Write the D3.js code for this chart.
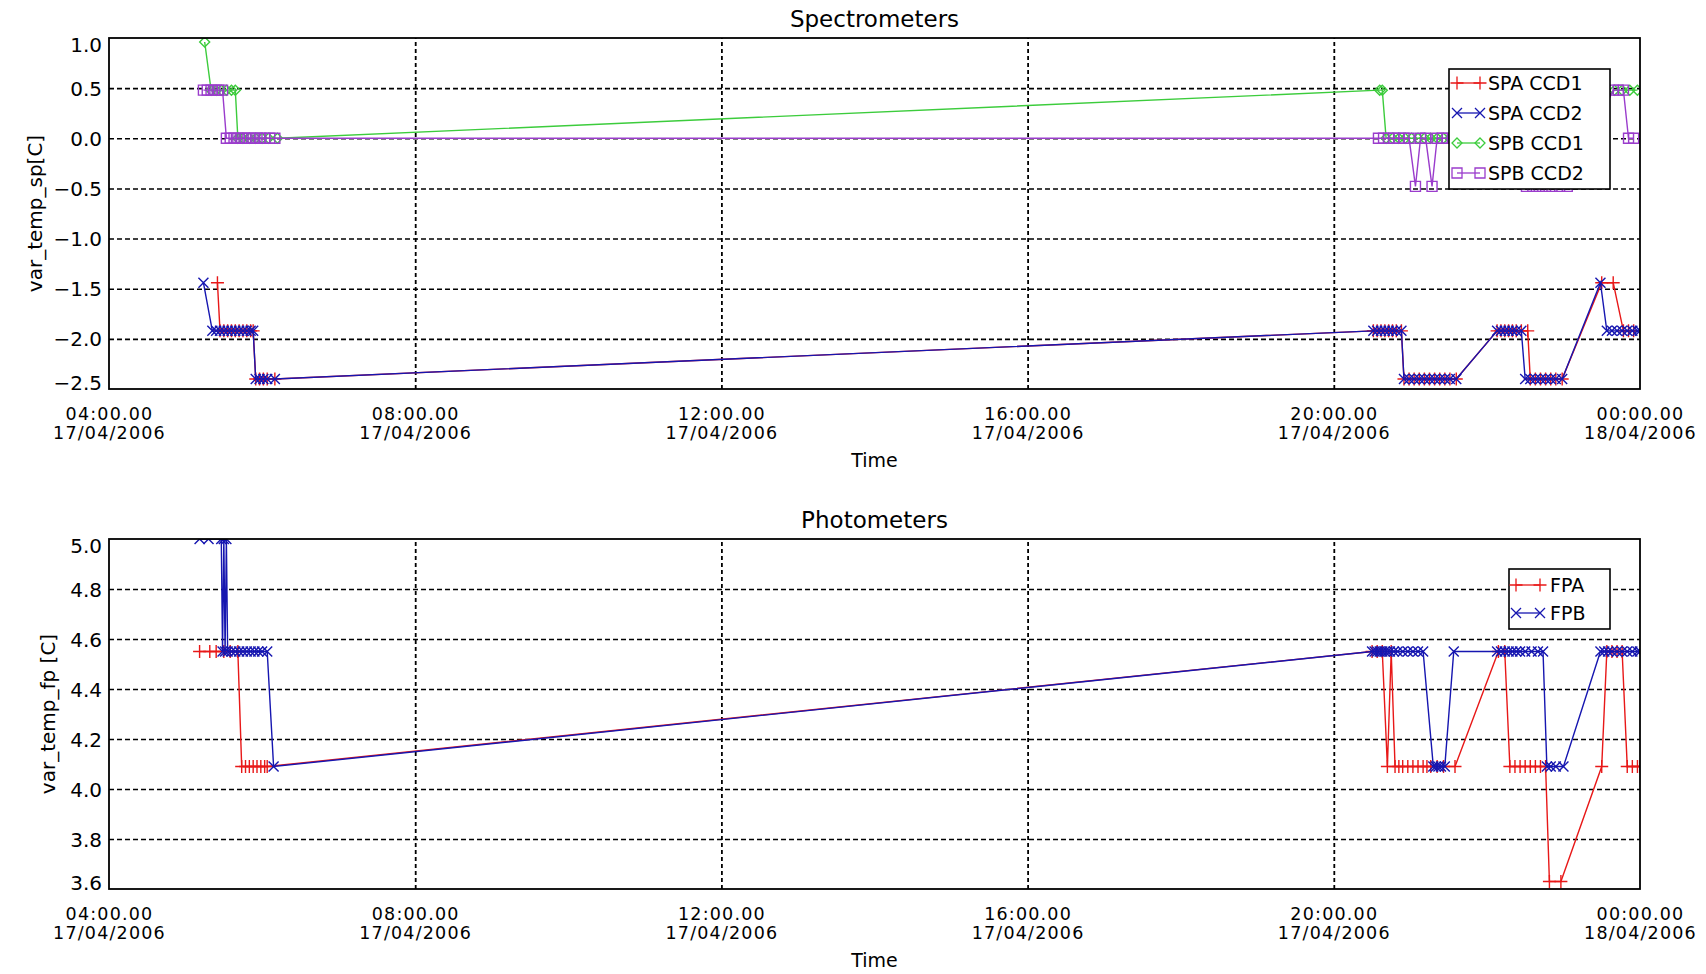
<!DOCTYPE html>
<html><head><meta charset="utf-8">
<script src="https://cdn.jsdelivr.net/npm/d3@7/dist/d3.min.js"></script>
<style>
body{margin:0;background:#fff;}
svg text{font-family:"DejaVu Sans",sans-serif;fill:#000;}
</style>
</head><body>
<svg id="chart" width="1706" height="974"></svg>
<script>
// ---------------- DATA ----------------
const timeTicks = ["04:00","08:00","12:00","16:00","20:00","24:00"];
const timeTickLabels = [
  ["04:00.00","17/04/2006"],["08:00.00","17/04/2006"],["12:00.00","17/04/2006"],
  ["16:00.00","17/04/2006"],["20:00.00","17/04/2006"],["00:00.00","18/04/2006"]
];
const spYTicks = [-2.5,-2.0,-1.5,-1.0,-0.5,0.0,0.5,1.0];
const fpYTicks = [3.6,3.8,4.0,4.2,4.4,4.6,4.8,5.0];

const spaCcd1 = [
 ["05:25",-1.44],["05:27",-1.92],["05:30",-1.92],["05:33",-1.92],["05:36",-1.92],["05:39",-1.92],["05:42",-1.92],["05:45",-1.92],["05:48",-1.92],["05:51",-1.92],["05:53",-1.92],
 ["05:55",-2.40],["05:58",-2.40],["06:01",-2.40],["06:04",-2.40],["06:10",-2.40],
 ["20:31",-1.92],["20:34",-1.92],["20:37",-1.92],["20:40",-1.92],["20:43",-1.92],["20:46",-1.92],["20:49",-1.92],["20:53",-1.92],
 ["20:55",-2.40],["20:59",-2.40],["21:03",-2.40],["21:07",-2.40],["21:11",-2.40],["21:15",-2.40],["21:19",-2.40],["21:23",-2.40],["21:27",-2.40],["21:31",-2.40],["21:36",-2.40],
 ["22:08",-1.92],["22:11",-1.92],["22:14",-1.92],["22:17",-1.92],["22:20",-1.92],["22:23",-1.92],["22:27",-1.92],["22:32",-1.92],
 ["22:34",-2.40],["22:38",-2.40],["22:42",-2.40],["22:46",-2.40],["22:50",-2.40],["22:54",-2.40],["22:59",-2.40],
 ["23:30",-1.44],["23:39",-1.44],["23:47",-1.92],["23:51",-1.92],["23:55",-1.92],["24:00",-1.92]
];
const spaCcd2 = [
 ["05:14",-1.44],["05:21",-1.92],["05:24",-1.92],["05:27",-1.92],["05:30",-1.92],["05:33",-1.92],["05:36",-1.92],["05:39",-1.92],["05:42",-1.92],["05:45",-1.92],["05:48",-1.92],["05:51",-1.92],["05:53",-1.92],
 ["05:55",-2.40],["05:58",-2.40],["06:01",-2.40],["06:04",-2.40],["06:10",-2.40],
 ["20:31",-1.92],["20:34",-1.92],["20:37",-1.92],["20:40",-1.92],["20:43",-1.92],["20:46",-1.92],["20:49",-1.92],["20:53",-1.92],
 ["20:55",-2.40],["20:59",-2.40],["21:03",-2.40],["21:07",-2.40],["21:11",-2.40],["21:15",-2.40],["21:19",-2.40],["21:23",-2.40],["21:27",-2.40],["21:31",-2.40],["21:36",-2.40],
 ["22:08",-1.92],["22:11",-1.92],["22:14",-1.92],["22:17",-1.92],["22:20",-1.92],["22:23",-1.92],["22:27",-1.92],
 ["22:30",-2.40],["22:34",-2.40],["22:38",-2.40],["22:42",-2.40],["22:46",-2.40],["22:50",-2.40],["22:54",-2.40],["22:59",-2.40],
 ["23:29",-1.44],["23:34",-1.92],["23:38",-1.92],["23:42",-1.92],["23:46",-1.92],["23:50",-1.92],["23:54",-1.92],["23:58",-1.92],["24:00",-1.92]
];
const spbCcd1 = [
 ["05:15",0.96],["05:20",0.48],["05:24",0.48],["05:28",0.48],["05:32",0.48],["05:36",0.48],["05:39",0.48],
 ["05:41",0.00],["05:45",0.00],["05:50",0.00],["05:55",0.00],["06:00",0.00],["06:05",0.00],["06:12",0.00],
 ["20:36",0.48],["20:38",0.48],["20:41",0.00],["20:46",0.00],["20:51",0.00],["20:56",0.00],["21:01",0.00],["21:06",0.00],["21:11",0.00],["21:16",0.00],["21:21",0.00],["21:26",0.00],["21:31",0.00],["21:36",0.00],
 ["22:00",0.00],["22:30",0.00],["23:00",0.00],
 ["23:40",0.48],["23:46",0.48],["23:52",0.48],["23:58",0.48]
];
const spbCcd2 = [
 ["05:14",0.48],["05:17",0.48],["05:20",0.48],["05:23",0.48],["05:26",0.48],["05:29",0.48],
 ["05:32",0.00],["05:35",0.00],["05:38",0.00],["05:41",0.00],["05:44",0.00],["05:47",0.00],["05:50",0.00],["05:53",0.00],["05:56",0.00],["05:59",0.00],["06:02",0.00],["06:06",0.00],["06:10",0.00],
 ["20:35",0.00],["20:39",0.00],["20:43",0.00],["20:47",0.00],["20:51",0.00],["20:55",0.00],["20:59",0.00],["21:04",-0.48],["21:08",0.00],["21:12",0.00],["21:17",-0.48],["21:21",0.00],["21:25",0.00],["21:29",0.00],["21:34",0.00],
 ["21:45",0.00],["22:00",0.00],["22:15",0.00],
 ["22:31",-0.48],["22:36",-0.48],["22:41",-0.48],["22:46",-0.48],["22:51",-0.48],["22:57",-0.48],["23:03",-0.48],
 ["23:39",0.48],["23:43",0.48],["23:47",0.48],["23:51",0.00],["23:55",0.00]
];

const fpa = [
 ["05:11",4.55],["05:19",4.55],["05:24",4.55],["05:30",4.55],["05:35",4.55],["05:41",4.55],
 ["05:44",4.09],["05:47",4.09],["05:50",4.09],["05:53",4.09],["05:56",4.09],["05:59",4.09],["06:02",4.09],["06:04",4.09],
 ["20:30",4.55],["20:34",4.55],["20:38",4.55],["20:42",4.09],["20:45",4.55],["20:48",4.09],["20:51",4.09],["20:54",4.09],["20:58",4.09],["21:02",4.09],["21:06",4.09],["21:10",4.09],["21:13",4.09],["21:16",4.09],["21:21",4.09],["21:26",4.09],["21:35",4.09],
 ["22:09",4.55],["22:14",4.55],["22:18",4.09],["22:22",4.09],["22:26",4.09],["22:30",4.09],["22:34",4.09],["22:38",4.09],["22:42",4.09],["22:46",4.09],
 ["22:49",3.63],["22:58",3.63],["23:30",4.09],["23:34",4.55],["23:38",4.55],["23:42",4.55],["23:46",4.55],
 ["23:50",4.09],["23:54",4.09],["23:58",4.09],["24:00",4.09]
];
const fpb = [
 ["05:11",5.00],["05:18",5.00],["05:28",5.00],["05:29",4.55],["05:30",5.00],["05:31",4.55],["05:32",5.00],["05:33",4.55],
 ["05:36",4.55],["05:39",4.55],["05:42",4.55],["05:45",4.55],["05:48",4.55],["05:51",4.55],["05:54",4.55],["05:57",4.55],["06:00",4.55],["06:04",4.55],["06:09",4.09],
 ["20:30",4.55],["20:32",4.55],["20:34",4.55],["20:36",4.55],["20:38",4.55],["20:40",4.55],["20:42",4.55],["20:44",4.55],["20:47",4.55],["20:50",4.55],["20:54",4.55],["20:58",4.55],["21:02",4.55],["21:06",4.55],["21:10",4.55],
 ["21:18",4.09],["21:20",4.09],["21:22",4.09],["21:24",4.09],["21:27",4.09],["21:34",4.55],
 ["22:08",4.55],["22:11",4.55],["22:14",4.55],["22:17",4.55],["22:20",4.55],["22:23",4.55],["22:26",4.55],["22:30",4.55],["22:35",4.55],["22:40",4.55],["22:44",4.55],
 ["22:47",4.09],["22:50",4.09],["22:54",4.09],["23:00",4.09],
 ["23:29",4.55],["23:32",4.55],["23:35",4.55],["23:38",4.55],["23:42",4.55],["23:46",4.55],["23:50",4.55],["23:54",4.55],["23:58",4.55],["24:00",4.55]
];

const spSeriesNames = ["SPA CCD1","SPA CCD2","SPB CCD1","SPB CCD2"];
const fpSeriesNames = ["FPA","FPB"];

// ---------------- DRAWING ----------------
const toDate = s => { const [h,m] = s.split(":").map(Number); return new Date(2006,3,17,h,m); };
const colors = {red:"#e81818", blue:"#1616b0", green:"#3ccc3c", purple:"#9a3ccc"};
const symbols = {
  plus:"M-6.5,0H6.5M0,-6.5V6.5",
  cross:"M-5,-5L5,5M-5,5L5,-5",
  diamond:"M0,-5L5,0L0,5L-5,0Z",
  square:"M-5,-5H5V5H-5Z"
};

const svg = d3.select("#chart");
const X0 = 109, X1 = 1640;
const x = d3.scaleTime().domain([toDate("04:00"), toDate("24:00")]).range([X0, X1]);

const panels = [
  {top:38, bottom:389, title:"Spectrometers", ylabel:"var_temp_sp[C]", ylabelX:42,
   yTicks:spYTicks, fmt:d3.format(".1f"),
   series:[
     {name:spSeriesNames[0], data:spaCcd1, color:colors.red, sym:"plus"},
     {name:spSeriesNames[1], data:spaCcd2, color:colors.blue, sym:"cross"},
     {name:spSeriesNames[2], data:spbCcd1, color:colors.green, sym:"diamond"},
     {name:spSeriesNames[3], data:spbCcd2, color:colors.purple, sym:"square"}
   ],
   legend:{x0:1449, x1:1610, y0:69, y1:189, rowY:[83,113,143,173], m1:1457, m2:1480, tx:1488}},
  {top:539, bottom:889, title:"Photometers", ylabel:"var_temp_fp [C]", ylabelX:55,
   yTicks:fpYTicks, fmt:d3.format(".1f"),
   series:[
     {name:fpSeriesNames[0], data:fpa, color:colors.red, sym:"plus"},
     {name:fpSeriesNames[1], data:fpb, color:colors.blue, sym:"cross"}
   ],
   legend:{x0:1509, x1:1610, y0:569, y1:629, rowY:[585,613], m1:1516, m2:1540, tx:1550}}
];

panels.forEach((p, pi) => {
  const y = d3.scaleLinear().domain([p.yTicks[0], p.yTicks[p.yTicks.length-1]]).range([p.bottom, p.top]);
  const g = svg.append("g");
  const clipId = "clip"+pi;
  svg.append("clipPath").attr("id", clipId).append("rect")
     .attr("x", X0).attr("y", p.top).attr("width", X1-X0).attr("height", p.bottom-p.top);

  // horizontal grid
  const hg = g.append("g").attr("transform", `translate(${X0},0)`)
    .call(d3.axisLeft(y).tickValues(p.yTicks.slice(1,-1)).tickSize(-(X1-X0)).tickFormat(""));
  hg.select(".domain").remove();
  hg.selectAll("line").attr("stroke","#000").attr("stroke-width",1.6).attr("stroke-dasharray","5,3");

  // vertical grid
  const vg = g.append("g").attr("transform", `translate(0,${p.bottom})`)
    .call(d3.axisBottom(x).tickValues(timeTicks.slice(1,-1).map(toDate)).tickSize(-(p.bottom-p.top)).tickFormat(""));
  vg.select(".domain").remove();
  vg.selectAll("line").attr("stroke","#000").attr("stroke-width",1.8).attr("stroke-dasharray","4,3");

  // series
  const plot = g.append("g").attr("clip-path", `url(#${clipId})`);
  const line = d3.line().x(d => x(toDate(d[0]))).y(d => y(d[1]));
  p.series.forEach(s => {
    plot.append("path").attr("d", line(s.data)).attr("fill","none")
      .attr("stroke", s.color).attr("stroke-width",1.4);
    plot.append("g").selectAll("path").data(s.data).join("path")
      .attr("transform", d => `translate(${x(toDate(d[0]))},${y(d[1])})`)
      .attr("d", symbols[s.sym]).attr("fill","none")
      .attr("stroke", s.color).attr("stroke-width",1.4);
  });

  // frame
  g.append("rect").attr("x",X0).attr("y",p.top).attr("width",X1-X0).attr("height",p.bottom-p.top)
    .attr("fill","none").attr("stroke","#000").attr("stroke-width",1.8);

  // y axis labels
  const ya = g.append("g").attr("transform", `translate(${X0},0)`)
    .call(d3.axisLeft(y).tickValues(p.yTicks).tickSize(0).tickPadding(7)
      .tickFormat(v => p.fmt(v).replace("-", "\u2013")));
  ya.select(".domain").remove();
  ya.attr("font-size",20).attr("font-family","DejaVu Sans");
  ya.selectAll(".tick text").attr("fill","#000")
    .attr("dy", (d,i) => i===0 ? "0.0em" : (i===p.yTicks.length-1 ? "0.68em" : "0.35em"));

  // x axis labels (two separate lines per tick)
  const xa = g.append("g").attr("transform", `translate(0,${p.bottom})`)
    .call(d3.axisBottom(x).tickValues(timeTicks.map(toDate)).tickSize(0).tickFormat(""));
  xa.select(".domain").remove();
  xa.selectAll(".tick text").remove();
  xa.selectAll(".tick").each(function(d,i){
    const t = d3.select(this);
    t.append("text").attr("x",0).attr("y",31).attr("text-anchor","middle")
      .attr("font-size",17.5).attr("letter-spacing",1.2).text(timeTickLabels[i][0]);
    t.append("text").attr("x",0).attr("y",50).attr("text-anchor","middle")
      .attr("font-size",17.5).attr("letter-spacing",1.2).text(timeTickLabels[i][1]);
  });

  // axis titles
  g.append("text").attr("x",(X0+X1)/2).attr("y",p.bottom+78).attr("text-anchor","middle")
    .attr("font-size",19).text("Time");
  g.append("text").attr("x",(X0+X1)/2).attr("y",p.top-11).attr("text-anchor","middle")
    .attr("font-size",23).text(p.title);
  g.append("text").attr("transform",`translate(${p.ylabelX},${(p.top+p.bottom)/2}) rotate(-90)`)
    .attr("text-anchor","middle").attr("font-size",20).text(p.ylabel);

  // legend
  const L = p.legend;
  const lg = g.append("g");
  lg.append("rect").attr("x",L.x0).attr("y",L.y0).attr("width",L.x1-L.x0).attr("height",L.y1-L.y0)
    .attr("fill","#fff").attr("stroke","#000").attr("stroke-width",1.6);
  p.series.forEach((s,i) => {
    const ry = L.rowY[i];
    lg.append("line").attr("x1",L.m1).attr("x2",L.m2).attr("y1",ry).attr("y2",ry)
      .attr("stroke",s.color).attr("stroke-width",1.3);
    [L.m1, L.m2].forEach(mx => lg.append("path").attr("transform",`translate(${mx},${ry})`)
      .attr("d",symbols[s.sym]).attr("fill","none").attr("stroke",s.color).attr("stroke-width",1.3));
    lg.append("text").attr("x",L.tx).attr("y",ry).attr("dy","0.36em").attr("font-size",19).text(s.name);
  });
});
</script>
</body></html>
